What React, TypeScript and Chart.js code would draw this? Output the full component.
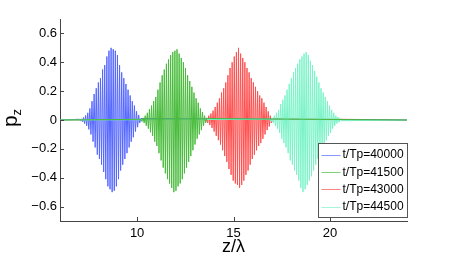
import React, { useEffect, useRef } from "react";
import { Chart, registerables } from "chart.js";

Chart.register(...registerables);

// ---- data ----
const zRange = [6, 24];
const pRange = [-0.7, 0.7];
const xTicks = [10, 15, 20];
const xTickLabels = ["10", "15", "20"];
const yTicks = [-0.6, -0.4, -0.2, 0, 0.2, 0.4, 0.6];
const yTickLabels = ["\u22120.6", "\u22120.4", "\u22120.2", "0", "0.2", "0.4", "0.6"];
const seriesLabels = ["t/Tp=40000", "t/Tp=41500", "t/Tp=43000", "t/Tp=44500"];
const seriesColors = ["#5567ff", "#47bb3a", "#ff5050", "#7af3c8"];
const seriesOrder = [3, 1, 4, 2];
const halfPeriod = 0.055; // z/λ spacing between successive crests/troughs
const packetStarts = [7.0, 10.2, 13.5, 16.9];

const peaks40000 = [
  0.005, -0.006, 0.008, -0.012, 0.018, -0.025, 0.032, -0.04, 0.05, -0.065,
  0.08, -0.1, 0.13, -0.15, 0.18, -0.19, 0.22, -0.24, 0.26, -0.27,
  0.29, -0.31, 0.35, -0.36, 0.38, -0.41, 0.44, -0.46, 0.48, -0.48,
  0.5, -0.5, 0.49, -0.49, 0.48, -0.46, 0.45, -0.41, 0.38, -0.35,
  0.33, -0.31, 0.29, -0.27, 0.25, -0.23, 0.21, -0.19, 0.17, -0.15,
  0.13, -0.12, 0.1, -0.08, 0.06, -0.05, 0.035, -0.02, 0.01,
];
const peaks41500 = [
  0.005, -0.01, 0.015, -0.02, 0.03, -0.04, 0.05, -0.06, 0.075, -0.085,
  0.1, -0.11, 0.13, -0.15, 0.16, -0.18, 0.21, -0.23, 0.26, -0.28,
  0.31, -0.33, 0.35, -0.37, 0.39, -0.41, 0.42, -0.44, 0.45, -0.47,
  0.47, -0.5, 0.48, -0.49, 0.49, -0.46, 0.46, -0.44, 0.43, -0.41,
  0.4, -0.37, 0.36, -0.33, 0.31, -0.29, 0.27, -0.25, 0.23, -0.21,
  0.19, -0.17, 0.15, -0.13, 0.12, -0.1, 0.08, -0.07, 0.055, -0.04,
  0.03, -0.02, 0.01,
];
const peaks43000 = [
  0.005, -0.01, 0.015, -0.02, 0.03, -0.035, 0.045, -0.055, 0.065, -0.08,
  0.09, -0.11, 0.12, -0.14, 0.15, -0.17, 0.19, -0.21, 0.22, -0.25,
  0.26, -0.29, 0.31, -0.34, 0.36, -0.38, 0.4, -0.42, 0.44, -0.44,
  0.47, -0.45, 0.5, -0.47, 0.46, -0.45, 0.43, -0.42, 0.4, -0.38,
  0.36, -0.35, 0.33, -0.31, 0.29, -0.27, 0.26, -0.24, 0.23, -0.21,
  0.2, -0.18, 0.17, -0.16, 0.15, -0.13, 0.12, -0.1, 0.09, -0.07,
  0.06, -0.045, 0.03, -0.02, 0.01,
];
const peaks44500 = [
  0.005, -0.01, 0.015, -0.02, 0.03, -0.04, 0.05, -0.06, 0.07, -0.09,
  0.11, -0.13, 0.14, -0.16, 0.17, -0.19, 0.21, -0.23, 0.25, -0.28,
  0.29, -0.31, 0.33, -0.35, 0.36, -0.38, 0.39, -0.42, 0.42, -0.47,
  0.44, -0.5, 0.46, -0.48, 0.47, -0.45, 0.45, -0.42, 0.41, -0.39,
  0.38, -0.35, 0.34, -0.31, 0.3, -0.27, 0.26, -0.23, 0.22, -0.2,
  0.19, -0.17, 0.16, -0.14, 0.13, -0.11, 0.1, -0.09, 0.07, -0.06,
  0.05, -0.04, 0.03, -0.025, 0.02, -0.015, 0.01, -0.005,
];
const seriesPeaks = [peaks40000, peaks41500, peaks43000, peaks44500];

const FONT = "'Liberation Sans', Arial, Helvetica, sans-serif";

function buildPoints(start: number, peaks: number[]) {
  const pts = [{ x: zRange[0], y: 0 }];
  peaks.forEach((v, i) => pts.push({ x: start + i * halfPeriod, y: v }));
  pts.push({ x: zRange[1], y: 0 });
  return pts;
}

const decorPlugin = {
  id: "decor",
  afterDatasetsDraw(chart: any) {
    const { ctx, chartArea, scales } = chart;
    const xs = scales.x;
    const ys = scales.y;
    ctx.save();
    // inward tick marks
    ctx.strokeStyle = "#444";
    ctx.lineWidth = 1;
    ctx.beginPath();
    xTicks.forEach((v) => {
      const px = Math.round(xs.getPixelForValue(v)) + 0.5;
      ctx.moveTo(px, chartArea.bottom);
      ctx.lineTo(px, chartArea.bottom - 4);
    });
    yTicks.forEach((v) => {
      const py = Math.round(ys.getPixelForValue(v)) + 0.5;
      ctx.moveTo(chartArea.left, py);
      ctx.lineTo(chartArea.left + 4, py);
    });
    ctx.stroke();

    // x axis title
    ctx.fillStyle = "#000";
    ctx.font = `18px ${FONT}`;
    ctx.textAlign = "center";
    ctx.textBaseline = "middle";
    ctx.fillText("z/\u03bb", (chartArea.left + chartArea.right) / 2, 247);

    // y axis title p_z
    ctx.save();
    ctx.translate(17, (chartArea.top + chartArea.bottom) / 2 - 2);
    ctx.rotate(-Math.PI / 2);
    ctx.font = `21px ${FONT}`;
    const wp = ctx.measureText("p").width;
    ctx.font = `13px ${FONT}`;
    const wz = ctx.measureText("z").width;
    const total = wp + wz;
    ctx.textAlign = "left";
    ctx.textBaseline = "alphabetic";
    ctx.font = `21px ${FONT}`;
    ctx.fillText("p", -total / 2, 0);
    ctx.font = `13px ${FONT}`;
    ctx.fillText("z", -total / 2 + wp, 4);
    ctx.restore();

    // legend box
    const bx = 318.5, by = 143.5, bw = 89, bh = 74;
    ctx.fillStyle = "#fff";
    ctx.fillRect(bx, by, bw, bh);
    ctx.strokeStyle = "#555";
    ctx.strokeRect(bx, by, bw, bh);
    ctx.font = `12px ${FONT}`;
    ctx.textAlign = "left";
    ctx.textBaseline = "middle";
    chart.data.datasets.forEach((ds: any, i: number) => {
      const yy = by + 11.5 + i * 17.2;
      ctx.strokeStyle = ds.borderColor;
      ctx.globalAlpha = 0.7;
      ctx.beginPath();
      ctx.moveTo(bx + 3, Math.round(yy) + 0.5);
      ctx.lineTo(bx + 22, Math.round(yy) + 0.5);
      ctx.stroke();
      ctx.globalAlpha = 1;
      ctx.fillStyle = "#000";
      ctx.fillText(ds.label, bx + 24, yy);
    });
    ctx.restore();
  },
};

export default function App() {
  const ref = useRef<HTMLCanvasElement | null>(null);
  useEffect(() => {
    if (!ref.current) return;
    const datasets = seriesLabels.map((label, i) => ({
      label,
      data: buildPoints(packetStarts[i], seriesPeaks[i]),
      borderColor: seriesColors[i],
      borderWidth: 1,
      pointRadius: 0,
      tension: 0,
      fill: false,
      order: seriesOrder[i],
    }));
    const chart = new Chart(ref.current, {
      type: "line",
      data: { datasets },
      options: {
        animation: false,
        responsive: false,
        maintainAspectRatio: false,
        layout: { padding: { top: 19, right: 43, left: 0, bottom: 0 } },
        plugins: { legend: { display: false }, tooltip: { enabled: false } },
        scales: {
          x: {
            type: "linear",
            min: zRange[0],
            max: zRange[1],
            grid: { display: false, drawTicks: false },
            border: { display: true, color: "#444", width: 1 },
            ticks: {
              color: "#000",
              font: { size: 13, family: FONT },
              padding: 5,
              maxRotation: 0,
              autoSkip: false,
              callback: (v: any) => {
                const k = xTicks.indexOf(Number(v));
                return k >= 0 ? xTickLabels[k] : "";
              },
            },
            afterBuildTicks: (s: any) => {
              s.ticks = xTicks.map((v) => ({ value: v }));
            },
            afterFit: (s: any) => {
              s.height = 37;
            },
          },
          y: {
            type: "linear",
            min: pRange[0],
            max: pRange[1],
            grid: { display: false, drawTicks: false },
            border: { display: true, color: "#444", width: 1 },
            ticks: {
              color: "#000",
              font: { size: 13, family: FONT },
              padding: 3,
              autoSkip: false,
              callback: (v: any) => {
                const k = yTicks.findIndex((t) => Math.abs(t - Number(v)) < 1e-9);
                return k >= 0 ? yTickLabels[k] : "";
              },
            },
            afterBuildTicks: (s: any) => {
              s.ticks = yTicks.map((v) => ({ value: v }));
            },
            afterFit: (s: any) => {
              s.width = 60;
            },
          },
        },
      },
      plugins: [decorPlugin],
    });
    return () => chart.destroy();
  }, []);
  return (
    <div style={{ position: "absolute", left: 0, top: 0, width: 450, height: 258, background: "#fff" }}>
      <canvas ref={ref} width={450} height={258} style={{ width: 450, height: 258, display: "block" }} />
    </div>
  );
}
